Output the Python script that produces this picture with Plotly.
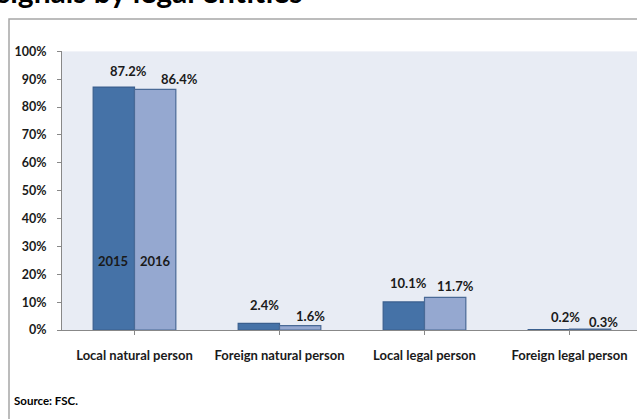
import plotly.graph_objects as go

# Share of signals by type of legal entity, 2015 vs 2016
categories = ["Local natural person", "Foreign natural person",
              "Local legal person", "Foreign legal person"]
years = ["2015", "2016"]
values_2015 = [0.872, 0.024, 0.101, 0.002]
values_2016 = [0.864, 0.016, 0.117, 0.003]

W, H = 637, 419
FONT = "Lato, 'Open Sans', sans-serif"
FS = 13

fill_colors = ["#4572A7", "#95A8D0"]
line_colors = ["#3A5F8E", "#4A6A96"]

# value-label offsets (px) relative to the top centre of each bar
label_dx = [[15, 5.5, 5, 17], [24, 10.5, 10, 13.5]]
label_dy = [[16, 18, 19, 12], [10, 10, 11, 7]]

series = [values_2015, values_2016]
idx = list(range(len(categories)))

fig = go.Figure()
for k, (yr, vals) in enumerate(zip(years, series)):
    fig.add_trace(go.Bar(
        x=idx, y=vals, name=yr,
        marker=dict(color=fill_colors[k], line=dict(color=line_colors[k], width=1.2)),
        hoverinfo="skip",
    ))

gap = 0.43
half = (1 - gap) / 4  # centre offset of each bar within its group
annotations = []
for k, vals in enumerate(series):
    for i, v in enumerate(vals):
        xc = i + (-half if k == 0 else half)
        annotations.append(dict(
            x=xc, y=v, xref="x", yref="y", text=f"<b>{v*100:.1f}%</b>",
            showarrow=False, xshift=label_dx[k][i], yshift=label_dy[k][i],
            yanchor="middle", xanchor="center",
            font=dict(family=FONT, size=FS, color="#1a1a1a"),
        ))
    # series name written inside the first bar
    annotations.append(dict(
        x=0 + (-half if k == 0 else half), y=0.247, xref="x", yref="y",
        text=f"<b>{years[k]}</b>", showarrow=False, xshift=-1 if k == 0 else 0,
        font=dict(family=FONT, size=FS, color="#1a1a1a"),
    ))

annotations.append(dict(
    x=-5 / W, y=1 - 3 / H, xref="paper", yref="paper", xanchor="left", yanchor="bottom",
    text="<b>signals by legal entities</b>", showarrow=False,
    font=dict(family=FONT, size=30, color="#000000"),
))
annotations.append(dict(
    x=12 / W, y=1 - 407 / H, xref="paper", yref="paper", xanchor="left", yanchor="middle",
    text="<b>Source: FSC.</b>", showarrow=False,
    font=dict(family=FONT, size=11.5, color="#000000"),
))

fig.update_layout(
    width=W, height=H,
    margin=dict(l=0, r=0, t=0, b=0),
    paper_bgcolor="white", plot_bgcolor="#E8ECF4",
    barmode="group", bargap=gap, bargroupgap=0,
    showlegend=False,
    annotations=annotations,
    shapes=[dict(type="rect", xref="paper", yref="paper",
                 x0=9 / W, x1=1.2, y0=1 - 11.5 / H, y1=-0.2,
                 line=dict(color="#A6A6A6", width=1.5), layer="above")],
    xaxis=dict(
        domain=[62 / W, 1], range=[-0.5, 3.5 - 5 / 145],
        tickmode="array", tickvals=idx, ticktext=[f"<b>{c}</b>" for c in categories],
        tickson="boundaries", ticks="outside", ticklen=4, tickcolor="#888888",
        ticklabelstandoff=9,
        showline=True, linecolor="#888888", linewidth=1,
        showgrid=False, zeroline=False,
        tickfont=dict(family=FONT, size=FS, color="#1a1a1a"),
    ),
    yaxis=dict(
        domain=[1 - 334 / H, 1 - 45 / H], range=[0, 1],
        dtick=0.1, tickformat=".0%",
        ticks="outside", ticklen=4, tickcolor="#888888",
        ticklabelstandoff=8,
        showline=True, linecolor="#888888", linewidth=1,
        showgrid=False, zeroline=False,
        tickfont=dict(family=FONT, size=12.5, color="#1a1a1a"),
    ),
)
fig.update_yaxes(tickprefix="<b>", ticksuffix="</b>")

fig.write_html("out.html")
